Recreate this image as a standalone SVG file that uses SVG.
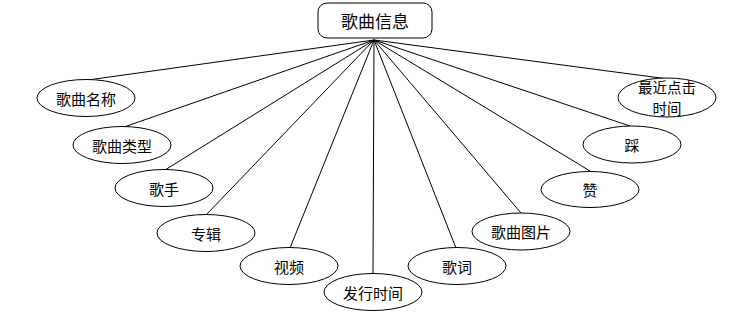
<svg xmlns="http://www.w3.org/2000/svg" width="756" height="320" viewBox="0 0 756 320">
<style>
.n{fill:#fff;stroke:#000;stroke-width:1}
.t{font-family:"Noto Sans CJK SC","Microsoft YaHei",sans-serif;font-size:15px;fill:#000;text-anchor:middle;dominant-baseline:central}
.h{font-size:17px}
.s{font-size:14.5px}
.c line{stroke:#000;stroke-width:1}
</style>
<rect width="756" height="320" fill="#fff"/>
<g class="c" id="connectors">
<line x1="374" y1="40" x2="88" y2="80"/>
<line x1="374" y1="40" x2="124" y2="127"/>
<line x1="374" y1="40" x2="165" y2="170"/>
<line x1="374" y1="40" x2="206" y2="215"/>
<line x1="374" y1="40" x2="290" y2="248"/>
<line x1="374" y1="40" x2="373" y2="274"/>
<line x1="374" y1="40" x2="456" y2="248"/>
<line x1="374" y1="40" x2="521" y2="213"/>
<line x1="374" y1="40" x2="590" y2="171"/>
<line x1="374" y1="40" x2="630" y2="126"/>
<line x1="374" y1="40" x2="668" y2="79"/>
</g>
<g id="root"><rect class="n" x="318" y="3" width="114" height="35" rx="9"/><text class="t h" x="375" y="20.5">歌曲信息</text></g>
<g id="n1"><ellipse class="n" cx="86" cy="98" rx="49" ry="18.5"/><text class="t" x="86" y="98">歌曲名称</text></g>
<g id="n2"><ellipse class="n" cx="122" cy="145" rx="49" ry="18.5"/><text class="t" x="122" y="145">歌曲类型</text></g>
<g id="n3"><ellipse class="n" cx="164" cy="188" rx="49" ry="18.5"/><text class="t" x="164" y="188">歌手</text></g>
<g id="n4"><ellipse class="n" cx="206" cy="233" rx="49" ry="18.5"/><text class="t" x="206" y="233">专辑</text></g>
<g id="n5"><ellipse class="n" cx="289" cy="266" rx="49" ry="18.5"/><text class="t" x="289" y="266">视频</text></g>
<g id="n6"><ellipse class="n" cx="373" cy="292" rx="49" ry="18.5"/><text class="t" x="373" y="292">发行时间</text></g>
<g id="n7"><ellipse class="n" cx="457" cy="266" rx="49" ry="18.5"/><text class="t" x="457" y="266">歌词</text></g>
<g id="n8"><ellipse class="n" cx="521" cy="231.5" rx="49" ry="18.5"/><text class="t" x="521" y="231.5">歌曲图片</text></g>
<g id="n9"><ellipse class="n" cx="590" cy="189.5" rx="49" ry="18"/><text class="t" x="590" y="189.5">赞</text></g>
<g id="n10"><ellipse class="n" cx="632" cy="144.5" rx="49" ry="18.5"/><text class="t" x="632" y="144.5">踩</text></g>
<g id="n11"><ellipse class="n" cx="667" cy="97.5" rx="49" ry="19.5"/><text class="t s" x="667" y="86.5">最近点击</text><text class="t s" x="667" y="107.5">时间</text></g>
</svg>
